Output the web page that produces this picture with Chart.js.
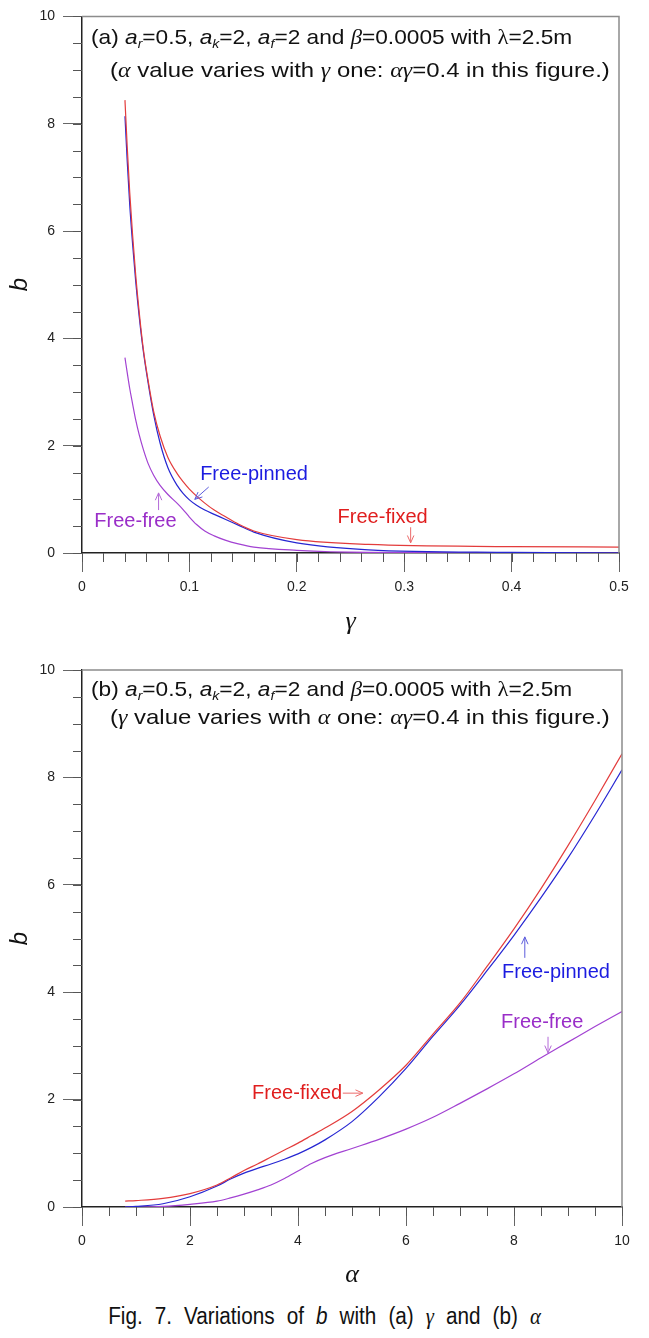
<!DOCTYPE html>
<html>
<head>
<meta charset="utf-8">
<script src="https://cdn.jsdelivr.net/npm/chart.js@4.4.1/dist/chart.umd.min.js"></script>
<style>
  html, body { margin: 0; padding: 0; background: #fff; }
  #pagina { position: relative; width: 649px; height: 1338px; overflow: hidden; font-family: "Liberation Sans", Arial, sans-serif; color: #111; }
  canvas { position: absolute; left: 0; }
  .titulo { position: absolute; white-space: nowrap; font-size: 21px; line-height: 24px; transform-origin: left center; }
  .linha1 { transform: scaleX(1.08); }
  .linha2 { transform: scaleX(1.14); }
  .titulo sub { font-size: 13px; font-style: italic; vertical-align: -4px; line-height: 0; }
  .g { font-family: "Liberation Serif", "Times New Roman", serif; font-style: italic; }
  #legenda { position: absolute; left: 0; width: 649px; top: 1302px; text-align: center; font-size: 23px; line-height: 28px; white-space: nowrap; transform: scaleX(0.9); word-spacing: 7px; }
</style>
</head>
<body>
<div id="pagina">
  <canvas id="grafico-gama" width="649" height="650" style="top:0"></canvas>
  <canvas id="grafico-alfa" width="649" height="650" style="top:650px"></canvas>

  <div class="titulo linha1" style="left:91px; top:25px">(a) <i>a</i><sub>r</sub>=0.5, <i>a</i><sub>k</sub>=2, <i>a</i><sub>f</sub>=2 and <span class="g">β</span>=0.0005 with <span class="g" style="font-style:normal">λ</span>=2.5m</div>
  <div class="titulo linha2" style="left:110px; top:58px">(<span class="g">α</span> value varies with <span class="g">γ</span> one: <span class="g">αγ</span>=0.4 in this figure.)</div>

  <div class="titulo linha1" style="left:91px; top:677px">(b) <i>a</i><sub>r</sub>=0.5, <i>a</i><sub>k</sub>=2, <i>a</i><sub>f</sub>=2 and <span class="g">β</span>=0.0005 with <span class="g" style="font-style:normal">λ</span>=2.5m</div>
  <div class="titulo linha2" style="left:110px; top:705px">(<span class="g">γ</span> value varies with <span class="g">α</span> one: <span class="g">αγ</span>=0.4 in this figure.)</div>

  <div id="legenda">Fig. 7. Variations of <i>b</i> with (a) <span class="g">γ</span> and (b) <span class="g">α</span></div>
</div>
<script>
// valores; cada ponto tem o seu alfa e o gama correspondente (alfa*gama = 0.4)
const alphaVals = [0.8, 1.0, 1.5, 2.0, 2.5, 2.75, 3.0, 3.25, 3.5, 3.75, 4.0, 4.25, 4.5, 5.0, 5.5, 6.0, 6.5, 7.0, 7.5, 8.0, 8.5, 9.0, 9.5, 10.0];
const gammaVals = [0.5, 0.4, 0.2667, 0.2, 0.16, 0.1455, 0.1333, 0.1231, 0.1143, 0.1067, 0.1, 0.0941, 0.0889, 0.08, 0.0727, 0.0667, 0.0615, 0.0571, 0.0533, 0.05, 0.0471, 0.0444, 0.0421, 0.04];
const bFreeFixed  = [0.11, 0.12, 0.16, 0.25, 0.41, 0.54, 0.68, 0.80, 0.93, 1.06, 1.19, 1.33, 1.47, 1.78, 2.18, 2.64, 3.22, 3.80, 4.48, 5.18, 5.93, 6.73, 7.57, 8.44];
const bFreePinned = [0.00, 0.01, 0.06, 0.19, 0.39, 0.52, 0.63, 0.72, 0.80, 0.89, 0.99, 1.11, 1.25, 1.59, 2.05, 2.58, 3.18, 3.76, 4.40, 5.06, 5.76, 6.50, 7.30, 8.14];
const bFreeFree   = [0.00, 0.00, 0.01, 0.05, 0.11, 0.17, 0.24, 0.32, 0.41, 0.53, 0.67, 0.81, 0.92, 1.09, 1.26, 1.45, 1.67, 1.93, 2.20, 2.48, 2.78, 3.07, 3.36, 3.64];

const gammaTicks = [0, 0.1, 0.2, 0.3, 0.4, 0.5];
const alphaTicks = [0, 2, 4, 6, 8, 10];
const bTicks = [0, 2, 4, 6, 8, 10];

const COR = {
  fixed:  { linha: "#e33c3c", texto: "#e01e1e", seta: "#ec6a6a" },
  pinned: { linha: "#2626d2", texto: "#1c1ce0", seta: "#5c5cdc" },
  free:   { linha: "#a242d2", texto: "#9a2ec8", seta: "#b46ad8" },
};

// rótulos com seta, em coordenadas dos dados
const notasGama = [
  { texto: "Free-pinned", cor: COR.pinned, x: 0.110, y: 1.47, seta: [0.118, 1.23, 0.105, 1.0] },
  { texto: "Free-free", cor: COR.free, x: 0.0115, y: 0.58, seta: [0.0713, 0.80, 0.0713, 1.12] },
  { texto: "Free-fixed", cor: COR.fixed, x: 0.238, y: 0.67, seta: [0.306, 0.48, 0.306, 0.19] },
];
const notasAlfa = [
  { texto: "Free-fixed", cor: COR.fixed, x: 3.15, y: 2.12, seta: [4.83, 2.12, 5.20, 2.12] },
  { texto: "Free-pinned", cor: COR.pinned, x: 7.78, y: 4.36, seta: [8.2, 4.64, 8.2, 5.03] },
  { texto: "Free-free", cor: COR.free, x: 7.76, y: 3.43, seta: [8.63, 3.17, 8.63, 2.87] },
];

const pluginMoldura = {
  id: "moldura",
  afterDraw(chart, args, opts) {
    const { ctx, chartArea: a, scales: { x, y } } = chart;
    ctx.save();

    ctx.strokeStyle = "#8c8c8c";
    ctx.lineWidth = 1.5;
    ctx.beginPath();
    ctx.moveTo(a.left, a.top);
    ctx.lineTo(a.right, a.top);
    ctx.lineTo(a.right, a.bottom);
    ctx.stroke();

    // tiques menores
    ctx.strokeStyle = "#555";
    ctx.lineWidth = 1;
    ctx.beginPath();
    const nY = Math.round(y.max / opts.yMenor);
    for (let i = 0; i <= nY; i++) {
      const py = Math.round(y.getPixelForValue(i * opts.yMenor)) + 0.5;
      ctx.moveTo(a.left - 9, py);
      ctx.lineTo(a.left, py);
    }
    const nX = Math.round(x.max / opts.xMenor);
    for (let i = 0; i <= nX; i++) {
      const px = Math.round(x.getPixelForValue(i * opts.xMenor)) + 0.5;
      ctx.moveTo(px, a.bottom);
      ctx.lineTo(px, a.bottom + 9);
    }
    ctx.stroke();

    ctx.font = '20px "Liberation Sans", Arial, sans-serif';
    ctx.textBaseline = "middle";
    ctx.textAlign = "left";
    opts.notas.forEach((n) => {
      ctx.fillStyle = n.cor.texto;
      ctx.fillText(n.texto, x.getPixelForValue(n.x), y.getPixelForValue(n.y));

      const [x1, y1, x2, y2] = n.seta;
      const p1 = { x: x.getPixelForValue(x1), y: y.getPixelForValue(y1) };
      const p2 = { x: x.getPixelForValue(x2), y: y.getPixelForValue(y2) };
      const ang = Math.atan2(p2.y - p1.y, p2.x - p1.x);
      ctx.strokeStyle = n.cor.seta;
      ctx.lineWidth = 1;
      ctx.beginPath();
      ctx.moveTo(p1.x, p1.y);
      ctx.lineTo(p2.x, p2.y);
      ctx.moveTo(p2.x - 8 * Math.cos(ang - 0.42), p2.y - 8 * Math.sin(ang - 0.42));
      ctx.lineTo(p2.x, p2.y);
      ctx.lineTo(p2.x - 8 * Math.cos(ang + 0.42), p2.y - 8 * Math.sin(ang + 0.42));
      ctx.stroke();
    });

    ctx.restore();
  },
};

const serie = (xs, ys, cor) => ({
  data: xs.map((v, i) => ({ x: v, y: ys[i] })).sort((p, q) => p.x - q.x),
  borderColor: cor,
  borderWidth: 1.2,
  pointRadius: 0,
  fill: false,
  cubicInterpolationMode: "monotone",
});

const fonteTique = { family: "Liberation Sans", size: 14 };

const criarGrafico = (id, cfg) => new Chart(document.getElementById(id), {
  type: "line",
  data: {
    datasets: [
      serie(cfg.xs, bFreeFixed, COR.fixed.linha),
      serie(cfg.xs, bFreePinned, COR.pinned.linha),
      serie(cfg.xs, bFreeFree, COR.free.linha),
    ],
  },
  options: {
    responsive: false,
    animation: false,
    layout: { padding: { left: 0, right: cfg.direita, top: cfg.topo, bottom: 0 } },
    plugins: {
      legend: { display: false },
      tooltip: { enabled: false },
      moldura: { xMenor: cfg.xMenor, yMenor: 0.5, notas: cfg.notas },
    },
    scales: {
      x: {
        type: "linear",
        min: 0,
        max: cfg.xMax,
        afterBuildTicks: (s) => { s.ticks = cfg.xTicks.map((v) => ({ value: v })); },
        afterFit: (s) => { s.height = cfg.alturaX; },
        grid: { drawOnChartArea: false, drawTicks: true, tickLength: 19, color: "#666" },
        border: { display: true, color: "#222", width: 1.5 },
        ticks: { padding: 7, color: "#222", font: fonteTique, callback: (v) => String(v) },
        title: {
          display: true,
          text: cfg.tituloX,
          color: "#111",
          font: { family: "Liberation Serif", size: 26, style: "italic" },
          padding: { top: 0, bottom: cfg.padTituloX },
        },
      },
      y: {
        type: "linear",
        min: 0,
        max: 10,
        afterBuildTicks: (s) => { s.ticks = bTicks.map((v) => ({ value: v })); },
        afterFit: (s) => { s.width = 82; },
        grid: { drawOnChartArea: false, drawTicks: true, tickLength: 19, color: "#666" },
        border: { display: true, color: "#222", width: 1.5 },
        ticks: { padding: 8, color: "#222", font: fonteTique, callback: (v) => String(v) },
        title: {
          display: true,
          text: "b",
          color: "#111",
          font: { family: "Liberation Sans", size: 24, style: "italic" },
          padding: { top: 6, bottom: 0 },
        },
      },
    },
  },
  plugins: [pluginMoldura],
});

criarGrafico("grafico-gama", {
  xs: gammaVals, xTicks: gammaTicks, xMax: 0.5, xMenor: 0.02, tituloX: "γ",
  notas: notasGama, direita: 30, topo: 16, alturaX: 97, padTituloX: 12,
});
criarGrafico("grafico-alfa", {
  xs: alphaVals, xTicks: alphaTicks, xMax: 10, xMenor: 0.5, tituloX: "α",
  notas: notasAlfa, direita: 27, topo: 20, alturaX: 93, padTituloX: 9,
});
</script>
</body>
</html>
